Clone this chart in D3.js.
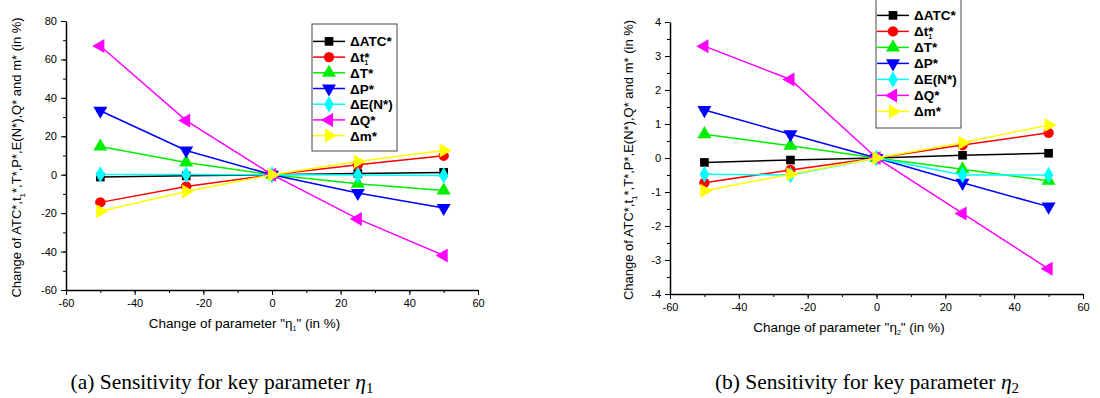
<!DOCTYPE html>
<html>
<head>
<meta charset="UTF-8">
<title>Sensitivity for key parameters</title>
<style>
  body { margin: 0; background: #fff; }
  svg text { font-family: "Liberation Sans", Arial, sans-serif; }
  .caption { font-family: "Liberation Serif", "Times New Roman", serif !important; }
</style>
</head>
<body>
<svg width="1100" height="398"></svg>
<script src="https://d3js.org/d3.v7.min.js"></script>
<script>
// percentage change of the parameter
var changes = [-50, -25, 0, 25, 50];

var seriesNames = ["ATC*", "t*1", "T*", "P*", "E(N*)", "Q*", "m*"];
var seriesColors = ["#000000", "#ff0000", "#00ee00", "#0000ff", "#00ffff", "#ff00ff", "#ffff00"];
var seriesShapes = ["square", "circle", "up", "down", "diamond", "left", "right"];

// panel (a): eta1
var atcEta1 = [-1.2, -0.6, 0, 0.6, 1.2];
var t1Eta1  = [-14.4, -6.1, 0, 5.2, 9.9];
var tEta1   = [14.7, 6.4, 0, -4.7, -8.2];
var pEta1   = [33.3, 12.6, 0, -9.5, -17.3];
var enEta1  = [0.1, 0.05, 0, -0.2, -0.4];
var qEta1   = [67, 28.2, 0, -23, -42];
var mEta1   = [-19, -8.7, 0, 6.9, 12.6];

// panel (b): eta2
var atcEta2 = [-0.13, -0.06, 0, 0.08, 0.14];
var t1Eta2  = [-0.73, -0.35, 0, 0.38, 0.74];
var tEta2   = [0.7, 0.36, 0, -0.33, -0.67];
var pEta2   = [1.41, 0.7, 0, -0.73, -1.43];
var enEta2  = [-0.48, -0.5, 0, -0.5, -0.5];
var qEta2   = [3.29, 2.31, 0, -1.63, -3.26];
var mEta2   = [-0.96, -0.48, 0, 0.45, 0.97];

var xTicks = [-60, -40, -20, 0, 20, 40, 60];
var yTicksA = [-60, -40, -20, 0, 20, 40, 60, 80];
var yTicksB = [-4, -3, -2, -1, 0, 1, 2, 3, 4];

var svg = d3.select("svg");

function markerPath(shape) {
  var sym = d3.symbol().size(85);
  if (shape == "square") return sym.type(d3.symbolSquare).size(75)();
  if (shape == "circle") return sym.type(d3.symbolCircle)();
  if (shape == "diamond") return sym.type(d3.symbolDiamond).size(80)();
  return sym.type(d3.symbolTriangle).size(85)();
}
function markerRotate(shape) {
  if (shape == "down") return 180;
  if (shape == "left") return -90;
  if (shape == "right") return 90;
  return 0;
}
// plain hyphen for negative ticks, like the original
function fmt(d) { return String(d); }

function drawPanel(p) {
  var x = d3.scaleLinear().domain([-60, 60]).range([p.left, p.right]);
  var y = d3.scaleLinear().domain(p.yDomain).range([p.bottom, p.top]);
  var g = svg.append("g");

  // axes with minor ticks
  var minorX = d3.range(-60, 61, 10);
  var minorY = d3.range(p.yDomain[0], p.yDomain[1] + 0.001, p.yMinor);
  g.append("g").attr("transform", "translate(0," + p.bottom + ")")
    .call(d3.axisBottom(x).tickValues(minorX).tickSize(3).tickFormat(""))
    .call(function(a) { a.select(".domain").remove(); });
  g.append("g").attr("transform", "translate(" + p.left + ",0)")
    .call(d3.axisLeft(y).tickValues(minorY).tickSize(3).tickFormat(""))
    .call(function(a) { a.select(".domain").remove(); });

  var xa = g.append("g").attr("transform", "translate(0," + p.bottom + ")")
    .call(d3.axisBottom(x).tickValues(xTicks).tickFormat(fmt).tickSize(5).tickSizeOuter(0).tickPadding(4));
  var ya = g.append("g").attr("transform", "translate(" + p.left + ",0)")
    .call(d3.axisLeft(y).tickValues(p.yTicks).tickFormat(fmt).tickSize(5).tickSizeOuter(0).tickPadding(4));
  [xa, ya].forEach(function(a) {
    a.select(".domain").attr("stroke-width", 1.5);
    a.selectAll("text").attr("font-size", 11).attr("font-family", "Liberation Sans, Arial, sans-serif").attr("fill", "#000");
  });

  // series
  p.series.forEach(function(vals, i) {
    var pts = changes.map(function(c, k) { return [c, vals[k]]; });
    g.append("path")
      .attr("d", d3.line().x(function(d) { return x(d[0]); }).y(function(d) { return y(d[1]); })(pts))
      .attr("fill", "none").attr("stroke", seriesColors[i]).attr("stroke-width", 1.5);
    g.selectAll(null).data(pts).enter().append("path")
      .attr("d", markerPath(seriesShapes[i]))
      .attr("transform", function(d) { return "translate(" + x(d[0]) + "," + y(d[1]) + ") rotate(" + markerRotate(seriesShapes[i]) + ")"; })
      .attr("fill", seriesColors[i]);
  });

  // legend
  var lg = g.append("g");
  lg.append("rect").attr("x", p.legX).attr("y", p.legY)
    .attr("width", p.legW).attr("height", p.legH)
    .attr("fill", "#fff").attr("stroke", "#444").attr("stroke-width", 1);
  seriesNames.forEach(function(name, i) {
    var ry = p.legY + 17.4 + i * p.legStep;
    lg.append("line").attr("x1", p.legX + 1).attr("x2", p.legX + 33)
      .attr("y1", ry).attr("y2", ry).attr("stroke", seriesColors[i]).attr("stroke-width", 1.5);
    lg.append("path").attr("d", markerPath(seriesShapes[i]))
      .attr("transform", "translate(" + (p.legX + 17) + "," + ry + ") rotate(" + markerRotate(seriesShapes[i]) + ")")
      .attr("fill", seriesColors[i]);
    var t = lg.append("text").attr("x", p.legX + 38).attr("y", ry + 5)
      .attr("font-size", 13.5).attr("font-weight", "bold");
    if (name == "t*1") {
      t.append("tspan").text("\u0394t*");
      t.append("tspan").attr("dy", 3).attr("dx", -5).attr("font-size", 6.5).text("1");
    } else {
      t.text("\u0394" + name);
    }
  });

  // axis titles
  var yl = g.append("text")
    .attr("transform", "translate(" + p.yLabelX + "," + ((p.top + p.bottom) / 2 + 2) + ") rotate(-90)")
    .attr("text-anchor", "middle").attr("font-size", 13);
  yl.append("tspan").text("Change of ATC*,t");
  yl.append("tspan").attr("font-size", 8).attr("dy", 4).text("1");
  yl.append("tspan").attr("dy", -4).text("*,T*,P*,E(N*),Q* and m* (in %)");

  var xl = g.append("text")
    .attr("x", x(-8)).attr("y", p.bottom + 38)
    .attr("text-anchor", "middle").attr("font-size", 13.5);
  xl.append("tspan").text("Change of parameter \"\u03b7");
  xl.append("tspan").attr("font-size", 7).attr("dy", 3).text(p.sub);
  xl.append("tspan").attr("dy", -3).text("\" (in %)");

  // caption
  var cap = svg.append("text").attr("class", "caption")
    .attr("x", p.capX).attr("y", 389).attr("text-anchor", "middle")
    .attr("font-size", 21.5).attr("font-family", "Liberation Serif, serif");
  cap.append("tspan").text(p.caption + " ");
  cap.append("tspan").attr("font-style", "italic").text("\u03b7");
  cap.append("tspan").attr("font-size", 15).attr("dy", 4).text(p.sub);
}

drawPanel({
  left: 66, right: 478, top: 21, bottom: 290,
  yDomain: [-60, 80], yTicks: yTicksA, yMinor: 10,
  series: [atcEta1, t1Eta1, tEta1, pEta1, enEta1, qEta1, mEta1],
  legX: 312, legY: 24, legW: 85, legH: 127, legStep: 15.7,
  yLabelX: 21, sub: "1",
  caption: "(a) Sensitivity for key parameter", capX: 222
});

drawPanel({
  left: 670, right: 1083, top: 22, bottom: 294,
  yDomain: [-4, 4], yTicks: yTicksB, yMinor: 0.5,
  series: [atcEta2, t1Eta2, tEta2, pEta2, enEta2, qEta2, mEta2],
  legX: 876, legY: -2, legW: 85, legH: 130, legStep: 16,
  yLabelX: 633, sub: "2",
  caption: "(b) Sensitivity for key parameter", capX: 867
});
</script>
</body>
</html>
